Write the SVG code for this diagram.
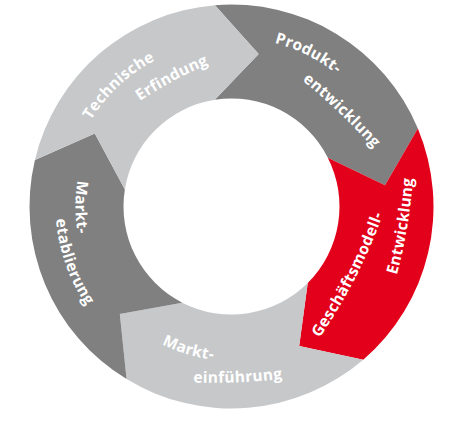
<svg xmlns="http://www.w3.org/2000/svg" xmlns:xlink="http://www.w3.org/1999/xlink" width="459" height="434" viewBox="0 0 459 434">
<style>
.light{fill:#c6c8ca}
.dark{fill:#808080}
.red{fill:#e2001a}
.lbl{font-family:"Open Sans","Liberation Sans",sans-serif;font-weight:700;font-size:15.5px;fill:#ffffff;letter-spacing:0.3px}
</style>
<defs>
<path id="p1" d="M93.12,296.37 A165,165 0 0 1 330.80,74.72"/>
<path id="p2" d="M54.95,177.3 A400,400 0 0 1 319.55,36.0"/>
<path id="p3" d="M95.66,105.62 A169.2,169.2 0 0 1 393.65,254.84"/>
<path id="p4" d="M217.62,23.56 A600,600 0 0 1 435.12,230.26"/>
<path id="p5" d="M267.64,401.99 A540,540 0 0 0 404.74,134.99"/>
<path id="p6" d="M359.74,371.1 A500,500 0 0 0 409.24,75.3"/>
<path id="p7" d="M78.28,188.23 A154.3,154.3 0 0 0 369.23,276.07"/>
<path id="p8" d="M87.44,369.34 A600,600 0 0 0 387.2,357.1"/>
<path id="p9" d="M203.74,52.99 A156,156 0 0 0 205.08,360.25"/>
<path id="p10" d="M145.47,53.19 A175.8,175.8 0 0 0 259.91,379.99"/>
</defs>
<g id="produktentwicklung">
<path class="dark" d="M214.95,5.18 A202,202 0 0 1 417.85,128.55 L385.03,185.20 L327.81,157.64 A108,108 0 0 0 214.79,99.80 L258.68,53.90 Z"/>
<text class="lbl" text-anchor="middle"><textPath xlink:href="#p3" href="#p3" startOffset="50%">Produkt-</textPath></text>
<text class="lbl" text-anchor="middle"><textPath xlink:href="#p4" href="#p4" startOffset="50%">entwicklung</textPath></text>
</g>
<g id="geschaeftsmodell">
<path class="red" d="M417.85,128.55 A202,202 0 0 1 363.22,359.64 L299.20,345.93 L307.73,283.00 A108,108 0 0 0 327.81,157.64 L385.03,185.20 Z"/>
<text class="lbl" text-anchor="middle"><textPath xlink:href="#p5" href="#p5" startOffset="50%">Geschäftsmodell-</textPath></text>
<text class="lbl" text-anchor="middle"><textPath xlink:href="#p6" href="#p6" startOffset="50%">Entwicklung</textPath></text>
</g>
<g id="markteinfuehrung">
<path class="light" d="M363.22,359.64 A202,202 0 0 1 126.56,379.10 L119.81,313.98 L182.30,302.64 A108,108 0 0 0 307.73,283.00 L299.20,345.93 Z"/>
<text class="lbl" text-anchor="middle"><textPath xlink:href="#p7" href="#p7" startOffset="50%">Markt-</textPath></text>
<text class="lbl" text-anchor="middle"><textPath xlink:href="#p8" href="#p8" startOffset="50%">einführung</textPath></text>
</g>
<g id="marktetablierung">
<path class="dark" d="M126.56,379.10 A202,202 0 0 1 34.92,160.03 L94.78,133.48 L124.86,189.42 A108,108 0 0 0 182.30,302.64 L119.81,313.98 Z"/>
<text class="lbl" text-anchor="middle"><textPath xlink:href="#p9" href="#p9" startOffset="50%">Markt-</textPath></text>
<text class="lbl" text-anchor="middle"><textPath xlink:href="#p10" href="#p10" startOffset="50%">etablierung</textPath></text>
</g>
<g id="technische-erfindung">
<path class="light" d="M34.92,160.03 A202,202 0 0 1 214.95,5.18 L258.68,53.90 L214.79,99.80 A108,108 0 0 0 124.86,189.42 L94.78,133.48 Z"/>
<text class="lbl" text-anchor="middle"><textPath xlink:href="#p1" href="#p1" startOffset="50%">Technische</textPath></text>
<text class="lbl" text-anchor="middle"><textPath xlink:href="#p2" href="#p2" startOffset="50%">Erfindung</textPath></text>
</g>
<g id="connectors"></g>
</svg>
